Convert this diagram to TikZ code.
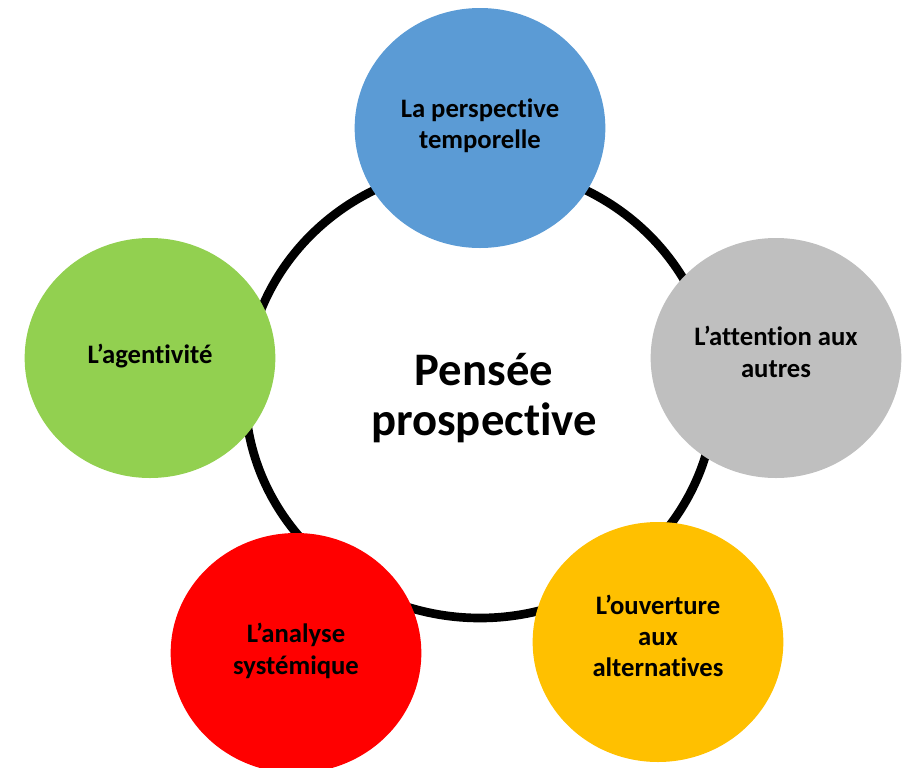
\documentclass[tikz,border=0pt]{standalone}
\usepackage{fontspec}
\setmainfont[Ligatures=NoCommon]{Carlito}
\usetikzlibrary{shapes.geometric}
\definecolor{cblue}{HTML}{5B9BD5}
\definecolor{cgray}{HTML}{BFBFBF}
\definecolor{cyellow}{HTML}{FFC000}
\definecolor{cred}{HTML}{FF0000}
\definecolor{cgreen}{HTML}{92D050}
\begin{document}
\begin{tikzpicture}[x=0.75pt,y=-0.75pt,
  bub/.style={ellipse, inner sep=0pt, draw=none, minimum width=188pt, minimum height=180pt},
  btxt/.style={align=center, inner sep=0pt, font=\fontsize{20}{23.5}\selectfont\bfseries},
  hub/.style={ellipse, inner sep=0pt, draw=black, line width=6.5pt, fill=white,
    minimum width=352.5pt, minimum height=339pt},
  htxt/.style={align=center, inner sep=0pt, font=\fontsize{35}{38}\selectfont\bfseries}]
\useasboundingbox (0,0) rectangle (915,768);
\node[hub] (hub) at (480,392) {};
\node[htxt] (title) at (484,398) {Pensée\\prospective};
\node[bub, fill=cblue] (temp) at (480,128) {};
\node[btxt] (tempt) at (480,126) {La perspective\\temporelle};
\node[bub, fill=cgray] (autres) at (776,358) {};
\node[btxt] (autrest) at (776,352) {L’attention aux\\autres};
\node[bub, fill=cyellow] (alt) at (658,642) {};
\node[btxt] (altt) at (658,636) {L’ouverture\\aux\\alternatives};
\node[bub, fill=cred] (sys) at (296,653) {};
\node[btxt] (syst) at (296,651) {L’analyse\\systémique};
\node[bub, fill=cgreen] (agent) at (150,358) {};
\node[btxt] (agentt) at (150,356) {L’agentivité};
\end{tikzpicture}
\end{document}
